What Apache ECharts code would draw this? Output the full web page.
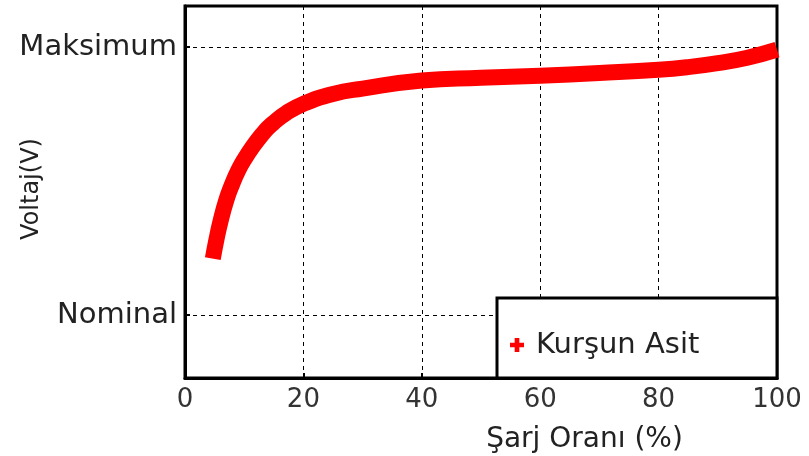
<!DOCTYPE html>
<html>
<head>
<meta charset="utf-8">
<script src="https://cdn.jsdelivr.net/npm/echarts@6/dist/echarts.min.js"></script>
<style>
  html, body { margin: 0; padding: 0; background: #ffffff; }
  #chart { width: 809px; height: 456px; }
</style>
</head>
<body>
<div id="chart"></div>
<script>
// Data (Nominal = 0, Maksimum = 100 on the voltage scale)
const chargePct = [4.7, 5.3, 6, 7, 8, 9, 10, 11.5, 13, 14, 15, 17, 20, 25, 30, 40, 50, 60, 70, 80, 85, 90, 95, 100];
const voltageLevel = [21, 28, 35, 43, 49, 54, 58, 63, 67.3, 69.8, 71.8, 75.2, 78.8, 82.5, 84.5, 87.5, 88.5, 89.3, 90.3, 91.5, 92.5, 94, 96, 99];
const yTickValues = [0, 100];
const yTickLabels = ['Nominal', 'Maksimum'];
const xTickValues = [0, 20, 40, 60, 80, 100];
const seriesName = 'Kurşun Asit';
const xAxisName = 'Şarj Oranı (%)';
const yAxisName = 'Voltaj(V)';

const font = 'DejaVu Sans';
const chart = echarts.init(document.getElementById('chart'), null, { renderer: 'canvas' });

chart.setOption({
  animation: false,
  backgroundColor: '#ffffff',
  grid: {
    left: 185, right: 32, top: 6, bottom: 78,
    containLabel: false, outerBoundsMode: 'none',
    show: true, borderColor: '#000', borderWidth: 3, backgroundColor: 'transparent'
  },
  xAxis: {
    type: 'value', min: 0, max: 100, interval: 20,
    name: xAxisName, nameLocation: 'middle', nameGap: 48, nameMoveOverlap: false,
    nameTextStyle: { fontFamily: font, fontSize: 28, color: '#222', padding: [0, 0, 0, 207] },
    axisLine: { show: true, onZero: false, lineStyle: { color: '#000', width: 3 } },
    axisTick: { show: true, inside: true, length: 5, lineStyle: { color: '#000', width: 2 } },
    axisLabel: { fontFamily: font, fontSize: 26, color: '#333', margin: 9,
      customValues: xTickValues },
    splitLine: { show: true, lineStyle: { color: '#000', width: 1, type: [4, 4] } }
  },
  yAxis: {
    type: 'value', min: -23.5, max: 115.3,
    name: yAxisName, nameLocation: 'middle', nameGap: 141, nameRotate: 90, nameMoveOverlap: false,
    nameTextStyle: { fontFamily: font, fontSize: 24, color: '#222', padding: [0, 0, 0, 6] },
    axisLine: { show: true, onZero: false, lineStyle: { color: '#000', width: 3 } },
    axisTick: { show: true, inside: true, length: 5, lineStyle: { color: '#000', width: 2 },
      customValues: yTickValues },
    axisLabel: { fontFamily: font, fontSize: 29, color: '#222', margin: 8,
      customValues: yTickValues,
      formatter: function (v) { const i = yTickValues.indexOf(v); return i >= 0 ? yTickLabels[i] : ''; } },
    splitLine: { show: true, lineStyle: { color: '#000', width: 1, type: [4, 4] } }
  },
  graphic: [{
    type: 'rect', z: 50,
    shape: { x: 497, y: 298, width: 280, height: 80 },
    style: { fill: '#ffffff', stroke: '#000', lineWidth: 3 }
  }],
  legend: {
    z: 60,
    left: 505, top: 323,
    data: [seriesName],
    icon: 'path://M6,0h6v6h6v6h-6v6h-6v-6h-6v-6h6z',
    itemWidth: 18, itemHeight: 14,
    itemStyle: { color: '#ff0000' },
    textStyle: { fontFamily: font, fontSize: 29, color: '#222', lineHeight: 34, padding: [0, 0, 0, 5] }
  },
  series: [{
    name: seriesName,
    type: 'line',
    data: chargePct.map((x, i) => [x, voltageLevel[i]]),
    showSymbol: false,
    smooth: 0.5,
    color: '#ff0000',
    lineStyle: { color: '#ff0000', width: 16, cap: 'butt', join: 'round' },
    z: 3
  }]
});
</script>
</body>
</html>
